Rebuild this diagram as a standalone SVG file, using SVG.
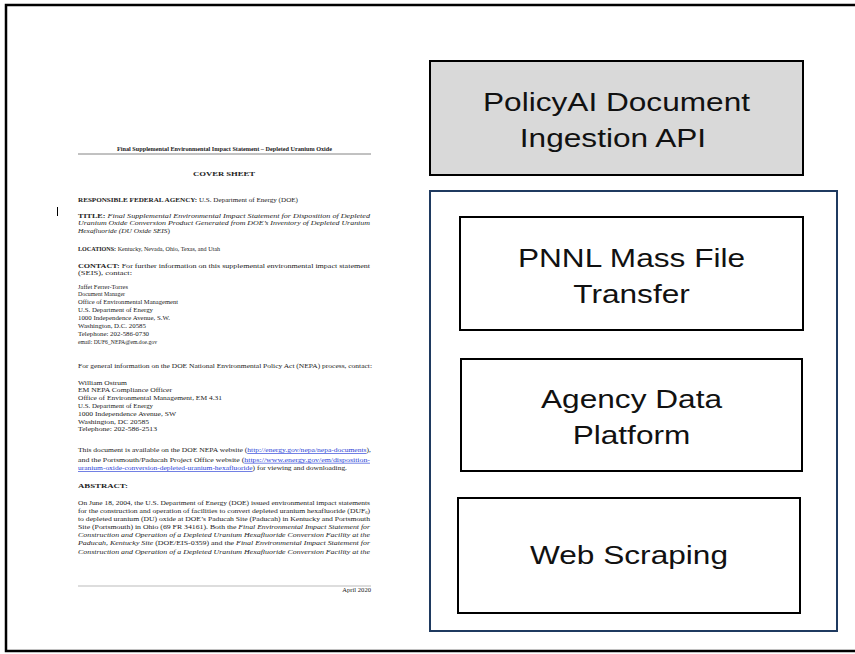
<svg xmlns="http://www.w3.org/2000/svg" width="855" height="654" viewBox="0 0 855 654">
<style>
.d{font-family:"Liberation Serif","Times New Roman",serif;font-size:6.6px;fill:#222}
.b{font-weight:bold}
.i{font-style:italic}
.lk{fill:#2a3fd6;text-decoration:underline}
.box{stroke:#000;stroke-width:2}
.lbl{font-family:"Liberation Sans",Arial,sans-serif;font-size:25.5px;fill:#111;text-anchor:middle}
</style>
<rect x="6" y="5" width="900" height="646" fill="#fff" stroke="#000" stroke-width="2.5"/>
<g id="document">
<line x1="78" y1="154" x2="371" y2="154" stroke="#666" stroke-width="0.8"/>
<text class="d b" x="117" y="151" font-size="5" textLength="215" lengthAdjust="spacingAndGlyphs">Final Supplemental Environmental Impact Statement – Depleted Uranium Oxide</text>
<text class="d b" x="193" y="176" font-size="8" textLength="62" lengthAdjust="spacingAndGlyphs">COVER SHEET</text>
<text class="d" x="78" y="202" textLength="220" lengthAdjust="spacingAndGlyphs"><tspan class="b">RESPONSIBLE FEDERAL AGENCY:</tspan>  U.S. Department of Energy (DOE)</text>
<text class="d" x="78" y="217.5" textLength="292" lengthAdjust="spacingAndGlyphs"><tspan class="b">TITLE:</tspan>   <tspan class="i">Final Supplemental Environmental Impact Statement for Disposition of Depleted</tspan></text>
<text class="d i" x="78" y="225" textLength="292" lengthAdjust="spacingAndGlyphs">Uranium Oxide Conversion Product Generated from DOE’s Inventory of Depleted Uranium</text>
<text class="d" x="78" y="232.5" textLength="92" lengthAdjust="spacingAndGlyphs"><tspan class="i">Hexafluoride (DU Oxide SEIS</tspan>)</text>
<text class="d" x="78" y="250.5" textLength="142" lengthAdjust="spacingAndGlyphs"><tspan class="b">LOCATIONS:</tspan>  Kentucky, Nevada, Ohio, Texas, and Utah</text>
<text class="d" x="78" y="267.5" textLength="292" lengthAdjust="spacingAndGlyphs"><tspan class="b">CONTACT:</tspan>  For further information on this supplemental environmental impact statement</text>
<text class="d" x="78" y="275.3" textLength="54" lengthAdjust="spacingAndGlyphs">(SEIS), contact:</text>
<text class="d" x="78" y="288.5" textLength="50" lengthAdjust="spacingAndGlyphs">Jaffet Ferrer-Torres</text>
<text class="d" x="78" y="296.3" textLength="47" lengthAdjust="spacingAndGlyphs">Document Manager</text>
<text class="d" x="78" y="304.2" textLength="100" lengthAdjust="spacingAndGlyphs">Office of Environmental Management</text>
<text class="d" x="78" y="312" textLength="75" lengthAdjust="spacingAndGlyphs">U.S. Department of Energy</text>
<text class="d" x="78" y="319.9" textLength="92" lengthAdjust="spacingAndGlyphs">1000 Independence Avenue, S.W.</text>
<text class="d" x="78" y="327.7" textLength="68" lengthAdjust="spacingAndGlyphs">Washington, D.C.  20585</text>
<text class="d" x="78" y="335.6" textLength="71" lengthAdjust="spacingAndGlyphs">Telephone:  202-586-0730</text>
<text class="d" x="78" y="343.5" textLength="79" lengthAdjust="spacingAndGlyphs">email:  DUF6_NEPA@em.doe.gov</text>
<text class="d" x="78" y="368" textLength="294" lengthAdjust="spacingAndGlyphs">For general information on the DOE National Environmental Policy Act (NEPA) process, contact:</text>
<text class="d" x="78" y="384.5" textLength="49" lengthAdjust="spacingAndGlyphs">William Ostrum</text>
<text class="d" x="78" y="392.3" textLength="94" lengthAdjust="spacingAndGlyphs">EM NEPA Compliance Officer</text>
<text class="d" x="78" y="400.1" textLength="144" lengthAdjust="spacingAndGlyphs">Office of Environmental Management, EM 4.31</text>
<text class="d" x="78" y="407.9" textLength="75" lengthAdjust="spacingAndGlyphs">U.S. Department of Energy</text>
<text class="d" x="78" y="415.7" textLength="98" lengthAdjust="spacingAndGlyphs">1000 Independence Avenue, SW</text>
<text class="d" x="78" y="423.5" textLength="71" lengthAdjust="spacingAndGlyphs">Washington, DC 20585</text>
<text class="d" x="78" y="431.3" textLength="79" lengthAdjust="spacingAndGlyphs">Telephone:  202-586-2513</text>
<text class="d" x="78" y="452" textLength="293" lengthAdjust="spacingAndGlyphs">This document is available on the DOE NEPA website (<tspan class="lk">http://energy.gov/nepa/nepa-documents</tspan>),</text>
<text class="d" x="78" y="461.8" textLength="292" lengthAdjust="spacingAndGlyphs">and the Portsmouth/Paducah Project Office website (<tspan class="lk">https://www.energy.gov/em/disposition-</tspan></text>
<text class="d" x="78" y="470" textLength="269" lengthAdjust="spacingAndGlyphs"><tspan class="lk">uranium-oxide-conversion-depleted-uranium-hexafluoride</tspan>) for viewing and downloading.</text>
<text class="d b" x="78" y="488" font-size="8" textLength="50" lengthAdjust="spacingAndGlyphs">ABSTRACT:</text>
<text class="d" x="78" y="505" textLength="292" lengthAdjust="spacingAndGlyphs">On June 18, 2004, the U.S. Department of Energy (DOE) issued environmental impact statements</text>
<text class="d" x="78" y="513" textLength="292" lengthAdjust="spacingAndGlyphs">for the construction and operation of facilities to convert depleted uranium hexafluoride (DUF<tspan font-size="4" dy="1">6</tspan><tspan dy="-1">)</tspan></text>
<text class="d" x="78" y="521" textLength="292" lengthAdjust="spacingAndGlyphs">to depleted uranium (DU) oxide at DOE’s Paducah Site (Paducah) in Kentucky and Portsmouth</text>
<text class="d" x="78" y="529" textLength="292" lengthAdjust="spacingAndGlyphs">Site (Portsmouth) in Ohio (69 FR 34161).  Both the <tspan class="i">Final Environmental Impact Statement for</tspan></text>
<text class="d i" x="78" y="537" textLength="292" lengthAdjust="spacingAndGlyphs">Construction and Operation of a Depleted Uranium Hexafluoride Conversion Facility at the</text>
<text class="d" x="78" y="545" textLength="292" lengthAdjust="spacingAndGlyphs"><tspan class="i">Paducah, Kentucky Site</tspan> (DOE/EIS-0359) and the <tspan class="i">Final Environmental Impact Statement for</tspan></text>
<text class="d i" x="78" y="553.5" textLength="292" lengthAdjust="spacingAndGlyphs">Construction and Operation of a Depleted Uranium Hexafluoride Conversion Facility at the</text>
<line x1="78" y1="586" x2="371" y2="586" stroke="#aaa" stroke-width="0.8"/>
<text class="d" x="371" y="592" font-size="5.5" text-anchor="end">April 2020</text>
<line x1="57.5" y1="207" x2="57.5" y2="216" stroke="#000" stroke-width="1"/>
</g>
<g id="connectors"></g>
<g id="policyai">
<rect class="box" x="430" y="61" width="373" height="114" fill="#d9d9d9"/>
<text class="lbl" transform="translate(616.5,111) scale(1.24,1)">PolicyAI Document</text>
<text class="lbl" transform="translate(613,147) scale(1.24,1)">Ingestion API</text>
</g>
<g id="sources">
<rect x="430" y="191" width="407" height="440" fill="#fff" stroke="#1f3a60" stroke-width="2"/>
</g>
<g id="pnnl">
<rect class="box" x="460" y="217" width="343" height="113" fill="#fff"/>
<text class="lbl" transform="translate(631.5,266.5) scale(1.24,1)">PNNL Mass File</text>
<text class="lbl" transform="translate(631.5,302.5) scale(1.24,1)">Transfer</text>
</g>
<g id="agency">
<rect class="box" x="461" y="359" width="341" height="112" fill="#fff"/>
<text class="lbl" transform="translate(631.5,408) scale(1.24,1)">Agency Data</text>
<text class="lbl" transform="translate(631.5,444) scale(1.24,1)">Platform</text>
</g>
<g id="webscraping">
<rect class="box" x="458" y="498" width="342" height="115" fill="#fff"/>
<text class="lbl" transform="translate(629,564) scale(1.24,1)">Web Scraping</text>
</g>
</svg>
